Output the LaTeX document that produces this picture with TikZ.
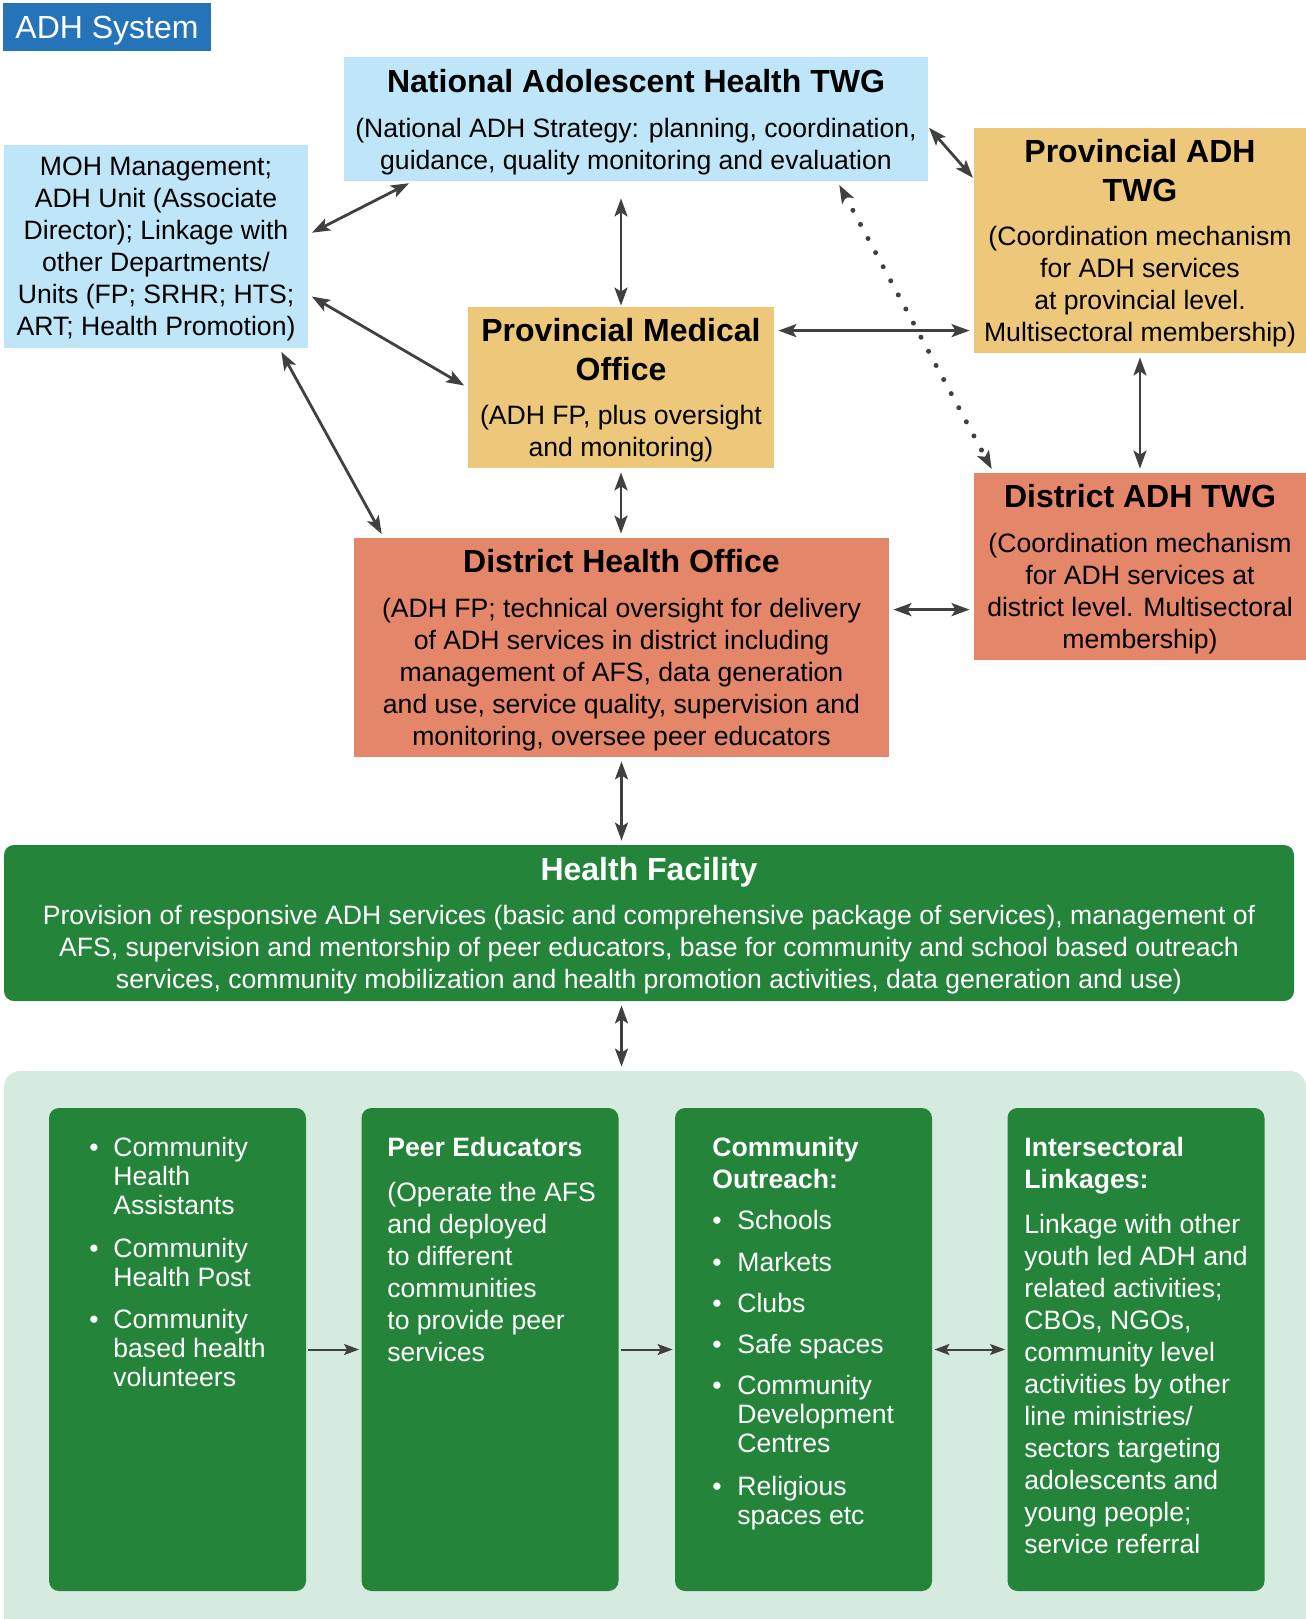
\documentclass[tikz,border=0pt]{standalone}
\usepackage{fontspec}
\setmainfont{Liberation Sans}
\usetikzlibrary{arrows.meta}
\definecolor{adhBlue}{RGB}{37,116,185}
\definecolor{natBlue}{RGB}{190,230,248}
\definecolor{provGold}{RGB}{237,199,122}
\definecolor{distSalmon}{RGB}{228,134,106}
\definecolor{hfGreen}{RGB}{36,132,58}
\definecolor{commGreen}{RGB}{214,235,223}
\definecolor{arrowGray}{RGB}{64,64,64}
\newcommand{\bodyfont}{\fontsize{13.3}{16}\selectfont}
\newcommand{\titlefont}{\fontsize{16}{19}\selectfont\bfseries}
\newcommand{\bul}[1][12pt]{\makebox[#1][l]{\textbullet}}
\newcommand{\ind}[1][12pt]{\hspace*{#1}}

\begin{document}
\begin{tikzpicture}
[x=0.5pt,y=-0.5pt,
  boxDecorate/.style={shape=rectangle,inner sep=0pt,align=center,font=\bodyfont,text depth=-0.8pt},
  greenDecorate/.style={shape=rectangle,rounded corners=5pt,fill=hfGreen,inner sep=0pt},
  textDecorate/.style={anchor=north west,inner sep=0pt,align=left,text=white,font=\bodyfont},
  lineDecorate/.style={<->,>={Stealth[length=9pt,width=6.5pt,inset=2pt]},line width=1.4pt,draw=arrowGray,shorten <=2pt,shorten >=2pt},
  thinDecorate/.style={>={Stealth[length=7.5pt,width=5.5pt,inset=1.5pt]},line width=1pt,draw=arrowGray,shorten <=1pt,shorten >=1pt},
  dotDecorate/.style={lineDecorate,dash pattern=on 0pt off 8pt,line cap=round,line width=2.5pt}]
\useasboundingbox (0,0) rectangle (1306,1619);
%% national and provincial level
\node (adh) at (107,27) [boxDecorate,fill=adhBlue,text=white,minimum width=104pt,minimum height=24pt,text depth=-1.5pt,font=\fontsize{16}{19}\selectfont] {ADH System};
\node (nat) at (636,119) [boxDecorate,fill=natBlue,minimum width=292pt,minimum height=62pt]
  {{\titlefont National Adolescent Health TWG}\\[6.5pt]
   (National ADH Strategy: planning, coordination,\\
   guidance, quality monitoring and evaluation};
\node (moh) at (156,246.5) [boxDecorate,fill=natBlue,minimum width=152pt,minimum height=101.5pt]
  {MOH Management;\\ADH Unit (Associate\\Director); Linkage with\\other Departments/\\Units (FP; SRHR; HTS;\\ART; Health Promotion)};
\node (ptwg) at (1140,240.5) [boxDecorate,fill=provGold,minimum width=166pt,minimum height=112.5pt]
  {{\titlefont Provincial ADH}\\[3.5pt]{\titlefont TWG}\\[6pt]
   (Coordination mechanism\\for ADH services\\at provincial level.\\Multisectoral membership)};
\node (pmo) at (621,387.5) [boxDecorate,fill=provGold,minimum width=153pt,minimum height=80.5pt]
  {{\titlefont Provincial Medical}\\[3.5pt]{\titlefont Office}\\[6.2pt]
   (ADH FP, plus oversight\\and monitoring)};
%% district level
\node (dtwg) at (1140,566.5) [boxDecorate,fill=distSalmon,minimum width=166pt,minimum height=93.5pt]
  {{\titlefont District ADH TWG}\\[6.2pt]
   (Coordination mechanism\\for ADH services at\\district level. Multisectoral\\membership)};
\node (dho) at (621.5,647.5) [boxDecorate,fill=distSalmon,minimum width=267.5pt,minimum height=109.5pt]
  {{\titlefont District Health Office}\\[6.2pt]
   (ADH FP; technical oversight for delivery\\of ADH services in district including\\management of AFS, data generation\\and use, service quality, supervision and\\monitoring, oversee peer educators};
\node (hf) at (649,923) [boxDecorate,rounded corners=5pt,fill=hfGreen,text=white,minimum width=645pt,minimum height=78pt]
  {{\titlefont Health Facility}\\[6.2pt]
   Provision of responsive ADH services (basic and comprehensive package of services), management of\\
   AFS, supervision and mentorship of peer educators, base for community and school based outreach\\
   services, community mobilization and health promotion activities, data generation and use)};
%% community level
\node (commArea) at (655,1355.5) [shape=rectangle,rounded corners=8pt,fill=commGreen,minimum width=651pt,minimum height=284.5pt] {};
\foreach \boxname/\x in {chw/177.5, peer/490, outreach/803.5, linkage/1136}
{
  \node (\boxname) at (\x,1349.5) [greenDecorate,minimum width=128.5pt,minimum height=241.5pt] {};
}
\node (chwText) at (89,1137) [textDecorate]
  {\bul Community\\[-1.5pt]\ind Health\\[-1.5pt]\ind Assistants\\[5.2pt]
   \bul Community\\[-1.5pt]\ind Health Post\\[5.2pt]
   \bul Community\\[-1.5pt]\ind based health\\[-1.5pt]\ind volunteers};
\node (peerText) at (387,1137) [textDecorate]
  {\textbf{Peer Educators}\\[6.2pt]
   (Operate the AFS\\and deployed\\to different\\communities\\to provide peer\\services};
\node (outreachText) at (712,1137) [textDecorate]
  {\textbf{Community}\\\textbf{Outreach:}\\[4.6pt]
   \bul[12.5pt]Schools\\[4.6pt]\bul[12.5pt]Markets\\[4.6pt]\bul[12.5pt]Clubs\\[4.6pt]\bul[12.5pt]Safe spaces\\[4.6pt]
   \bul[12.5pt]Community\\[-1.5pt]\ind[12.5pt]Development\\[-1.5pt]\ind[12.5pt]Centres\\[5.2pt]
   \bul[12.5pt]Religious\\[-1.5pt]\ind[12.5pt]spaces etc};
\node (linkageText) at (1024,1137) [textDecorate]
  {\textbf{Intersectoral}\\\textbf{Linkages:}\\[6.2pt]
   Linkage with other\\youth led ADH and\\related activities;\\CBOs, NGOs,\\community level\\activities by other\\line ministries/\\sectors targeting\\adolescents and\\young people;\\service referral};
%% connectors
\coordinate (pmoRight) at ([yshift=-12pt]pmo.north east);
\coordinate (dhoRight) at ([yshift=-36pt]dho.north east);
\draw[lineDecorate] ([yshift=6pt]moh.east) -- ([xshift=34.5pt]nat.south west);
\draw[lineDecorate] ([yshift=-24pt]moh.east) -- (pmo.west);
\draw[lineDecorate] ([xshift=-14.5pt]moh.south east) -- ([xshift=15pt]dho.north west);
\draw[lineDecorate,shorten <=8.5pt,shorten >=0.5pt] (nat.south -| pmo.north) -- (pmo.north);
\draw[lineDecorate,shorten <=0.5pt,shorten >=0.5pt] ([yshift=-4pt]nat.east) -- ([yshift=-25.5pt]ptwg.north west);
\draw[dotDecorate] ([xshift=-45.5pt]nat.south east) -- ([xshift=10pt]dtwg.north west);
\draw[lineDecorate] (pmoRight) -- (pmoRight -| ptwg.west);
\draw[lineDecorate] (ptwg.south) -- (dtwg.north);
\draw[lineDecorate] (pmo.south) -- (pmo.south |- dho.north);
\draw[lineDecorate] (dhoRight) -- (dhoRight -| dtwg.west);
\draw[lineDecorate] (dho.south) -- (dho.south |- hf.north);
\draw[lineDecorate] (hf.south -| dho.south) -- (commArea.north -| dho.south);
\draw[thinDecorate,->] (chw.east) -- (peer.west);
\draw[thinDecorate,->] (peer.east) -- (outreach.west);
\draw[thinDecorate,<->] (outreach.east) -- (linkage.west);
\end{tikzpicture}
\end{document}
